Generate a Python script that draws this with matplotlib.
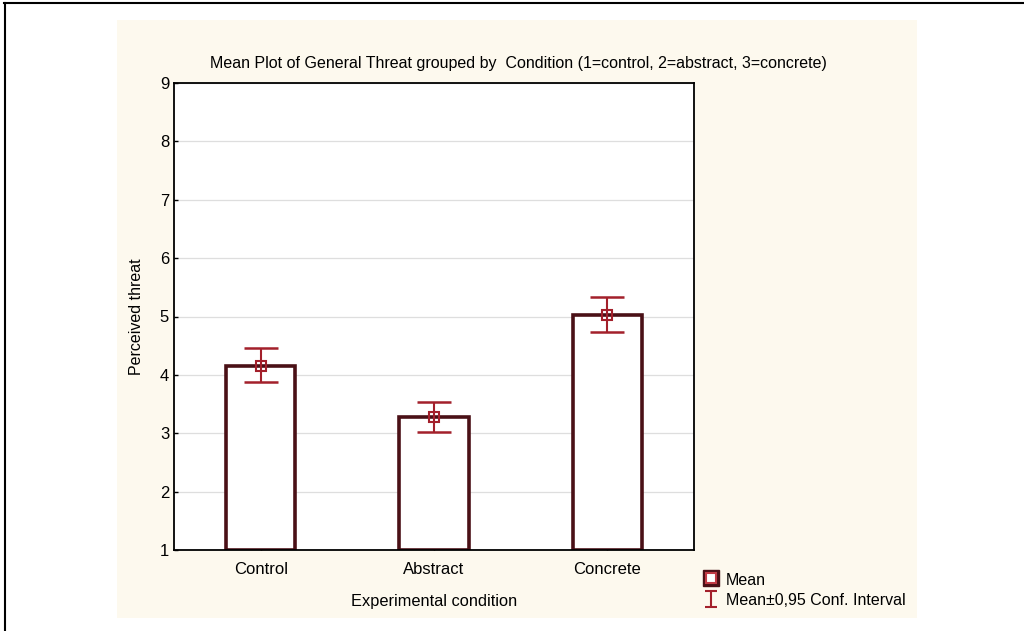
import numpy as np
import matplotlib.pyplot as plt
from matplotlib.lines import Line2D
from matplotlib.patches import Rectangle

plt.rcParams['font.family'] = ['Liberation Sans', 'DejaVu Sans']

# values
conditions = ["Control", "Abstract", "Concrete"]
means = [4.16, 3.28, 5.03]
ci_low = [3.87, 3.02, 4.73]
ci_high = [4.46, 3.54, 5.34]

bar_edge = "#4a1016"
err_col = "#a3202b"

fig = plt.figure(figsize=(10.24, 6.31), dpi=100)
fig.patch.set_facecolor("white")

# cream panel behind the plot
fig.add_artist(Rectangle((117/1024, 13/631), 800/1024, 598/631,
                         transform=fig.transFigure, facecolor="#fdf9ee",
                         edgecolor="none", zorder=-10))
# black border on top and left
fig.add_artist(Line2D([0.004, 1], [0.995, 0.995], color="black", lw=1.5, transform=fig.transFigure))
fig.add_artist(Line2D([0.005, 0.005], [0, 0.995], color="black", lw=1.5, transform=fig.transFigure))

ax = fig.add_axes([174/1024, 81/631, 520/1024, 467/631])
ax.set_facecolor("white")

x = np.arange(1, len(conditions) + 1)
ax.bar(x, np.array(means) - 1, bottom=1, width=0.4, facecolor="white",
       edgecolor=bar_edge, linewidth=2.6, zorder=2)

yerr = [np.array(means) - np.array(ci_low), np.array(ci_high) - np.array(means)]
ax.errorbar(x, means, yerr=yerr, fmt="none", ecolor=err_col, elinewidth=1.5,
            capsize=12.5, capthick=1.8, zorder=3)
ax.plot(x, means, ls="none", marker="s", ms=7, mfc="none", mec=err_col, mew=1.5, zorder=4)

ax.set_xlim(0.5, 3.5)
ax.set_ylim(1, 9)
ax.set_yticks(range(1, 10))
ax.set_xticks(x, conditions)
ax.yaxis.grid(True, color="#dedede", lw=0.9, zorder=0)
ax.set_axisbelow(True)
ax.tick_params(direction="in", length=3, labelsize=12, width=1)
ax.tick_params(axis="x", pad=9)
for s in ax.spines.values():
    s.set_linewidth(1.3)

ax.set_title("Mean Plot of General Threat grouped by  Condition (1=control, 2=abstract, 3=concrete)",
             fontsize=11.5, pad=11, x=0.662)
ax.set_ylabel("Perceived threat", fontsize=11.5, labelpad=11)
ax.set_xlabel("Experimental condition", fontsize=11.8, labelpad=12)

h_outer = Line2D([], [], ls="none", marker="s", ms=12, mfc=bar_edge, mec=bar_edge, mew=1)
h_inner = Line2D([], [], ls="none", marker="s", ms=6.5, mfc="white", mec="#c03a44", mew=1.5)
h_ci = ax.errorbar([np.nan], [np.nan], yerr=[[np.nan]], fmt="none", ecolor=err_col,
                   elinewidth=1.5, capsize=4, capthick=1.5)
fig.legend([(h_outer, h_inner), h_ci], ["Mean", "Mean\u00b10,95 Conf. Interval"],
           loc="upper left", bbox_to_anchor=(692/1024, 1 - 560/631), frameon=False,
           fontsize=11.5, handlelength=1.0, handletextpad=0.4, labelspacing=0.25,
           borderpad=0.2, handleheight=1.2)

fig.savefig("out.png", dpi=100)
